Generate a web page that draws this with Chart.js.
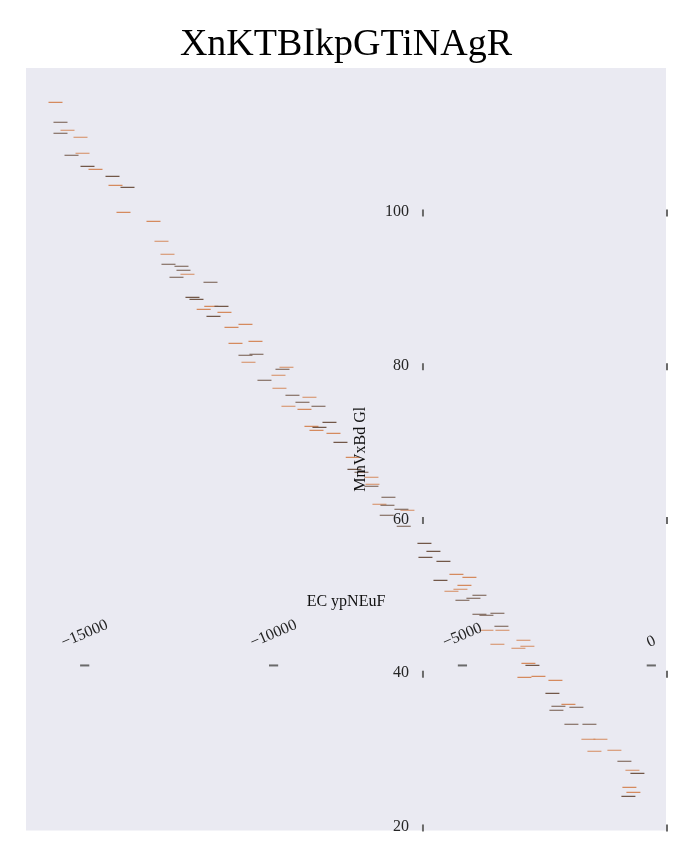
<!DOCTYPE html>
<html><head><meta charset="utf-8">
<script src="https://cdn.jsdelivr.net/npm/chart.js@4/dist/chart.umd.min.js"></script>
<style>html,body{margin:0;padding:0;background:#fff;}</style>
</head><body>
<canvas id="c" width="692" height="865"></canvas>
<script>
const TITLE = "XnKTBIkpGTiNAgR";
const X_LABEL = "EC ypNEuF";
const Y_LABEL = "MmVxBd Gl";

const darkX = [-15641,-15641,-15349,-14926,-14264,-13867,-12782,-12438,-12385,-12570,-11670,-12147,-12041,-11379,-11591,-10744,-10453,-9764,-10241,-9500,-9235,-8811,-8520,-8785,-8229,-7859,-7673,-7409,-6959,-6985,-6615,-7004,-6554,-6006,-5768,-5979,-5503,-5582,-4550,-4709,-5000,-4550,-4365,-4074,-3968,-3147,-2618,-2459,-1983,-2512,-2115,-1638,-712,-368,-606];
const darkY = [111.80,110.37,107.51,106.07,104.77,103.34,93.33,93.07,92.55,91.64,90.99,89.03,88.77,87.86,86.56,81.49,81.62,79.67,78.24,76.29,75.38,74.86,72.77,72.12,70.17,66.66,66.27,64.45,63.02,61.98,61.46,60.68,59.25,57.03,55.99,55.21,54.69,52.22,50.27,49.88,49.62,47.80,47.67,47.93,46.24,41.16,37.52,35.83,35.70,35.31,33.49,33.49,28.68,27.11,24.12];

const orangeX = [-15773,-15455,-15111,-15058,-14714,-14185,-13973,-13179,-12967,-12808,-12279,-11649,-11850,-11300,-10744,-11114,-10479,-11008,-10664,-9659,-9870,-9844,-9050,-9606,-9182,-8997,-8864,-8414,-7904,-7409,-7382,-7197,-6456,-5159,-4815,-4947,-5053,-5291,-4365,-3941,-4074,-3385,-3280,-3518,-3253,-3359,-2988,-2538,-2194,-1665,-1347,-1506,-977,-500,-580,-474];
const orangeY = [114.40,110.76,109.85,107.77,105.68,103.60,100.09,98.92,96.32,94.63,92.03,87.86,87.47,87.08,85.52,85.13,83.31,83.05,80.58,79.93,78.89,77.20,76.03,74.86,74.46,72.25,71.73,71.34,68.22,65.62,64.71,62.11,61.33,53.00,52.61,51.57,51.05,50.79,45.72,45.72,43.90,44.42,43.64,43.38,41.42,39.60,39.73,39.21,36.09,31.54,31.54,29.98,30.11,27.51,25.29,24.64];

const xTicks = [-15000, -10000, -5000, 0];
const xTickLabels = ["\u221215000", "\u221210000", "\u22125000", "0"];
const yTicks = [20, 40, 60, 80, 100];
const yTickLabels = ["20", "40", "60", "80", "100"];

const X_MIN = -16554, X_MAX = 389;
const Y_MIN = 19.67, Y_MAX = 118.86;
const Y_AXIS_AT_X = -6045;   // where the y ticks sit
const X_AXIS_AT_Y = 41.14;   // where the x ticks sit

const FONT = '"Liberation Serif", "Times New Roman", serif';

function pts(xs, ys) { return xs.map((v, i) => ({x: v, y: ys[i]})); }

const decor = {
  id: 'decor',
  beforeDraw(chart) {
    const {ctx, chartArea: a} = chart;
    ctx.save();
    ctx.fillStyle = '#ffffff';
    ctx.fillRect(0, 0, chart.width, chart.height);
    ctx.fillStyle = '#eaeaf2';
    ctx.fillRect(a.left, a.top, a.right - a.left, a.bottom - a.top);
    ctx.restore();
  },
  afterDraw(chart) {
    const {ctx, chartArea: a, scales: {x, y}} = chart;
    const yAxisPx = x.getPixelForValue(Y_AXIS_AT_X);
    const xAxisPy = y.getPixelForValue(X_AXIS_AT_Y);
    ctx.save();
    // y ticks
    ctx.font = '16px ' + FONT;
    yTicks.forEach((v, i) => {
      const py = y.getPixelForValue(v);
      ctx.strokeStyle = '#6a6a6a';
      ctx.lineWidth = 2;
      [yAxisPx, a.right + 1].forEach(px => {
        ctx.beginPath(); ctx.moveTo(px, py - 3.5); ctx.lineTo(px, py + 3.5); ctx.stroke();
      });
      ctx.fillStyle = '#262626';
      ctx.textAlign = 'right';
      ctx.textBaseline = 'middle';
      ctx.fillText(yTickLabels[i], yAxisPx - 14, py - 1);
    });
    // x ticks
    const ang = 23 * Math.PI / 180;
    xTicks.forEach((v, i) => {
      const px = x.getPixelForValue(v);
      ctx.strokeStyle = '#6a6a6a';
      ctx.lineWidth = 2;
      ctx.beginPath(); ctx.moveTo(px - 4.6, xAxisPy); ctx.lineTo(px + 4.6, xAxisPy); ctx.stroke();
      const w = ctx.measureText(xTickLabels[i]).width;
      const h = 12;
      const H = w * Math.sin(ang) + h * Math.cos(ang);
      const cy = xAxisPy - 16.5 - H / 2;
      ctx.save();
      ctx.translate(px, cy);
      ctx.rotate(-ang);
      ctx.fillStyle = '#262626';
      ctx.textAlign = 'center';
      ctx.textBaseline = 'middle';
      ctx.fillText(xTickLabels[i], 0, 0);
      ctx.restore();
    });
    // axis labels
    ctx.fillStyle = '#111111';
    ctx.font = '16px ' + FONT;
    ctx.textAlign = 'center';
    ctx.textBaseline = 'middle';
    ctx.fillText(X_LABEL, (a.left + a.right) / 2, xAxisPy - 63.5);
    ctx.save();
    ctx.translate(yAxisPx - 62, (a.top + a.bottom) / 2);
    ctx.rotate(-Math.PI / 2);
    ctx.fillText(Y_LABEL, 0, 0);
    ctx.restore();
    ctx.restore();
  }
};

new Chart(document.getElementById('c'), {
  type: 'scatter',
  data: {
    datasets: [
      {label: 'dark', data: pts(darkX, darkY), pointStyle: 'line', pointRadius: 7, pointHoverRadius: 7,
       borderColor: '#725748', backgroundColor: '#725748', pointBorderWidth: 1.2},
      {label: 'orange', data: pts(orangeX, orangeY), pointStyle: 'line', pointRadius: 7, pointHoverRadius: 7,
       borderColor: '#d58a5e', backgroundColor: '#d58a5e', pointBorderWidth: 1.2}
    ]
  },
  options: {
    responsive: false,
    animation: false,
    events: [],
    layout: {autoPadding: false, padding: {top: 0, left: 26, right: 26, bottom: 34.5}},
    scales: {
      x: {type: 'linear', min: X_MIN, max: X_MAX, display: false},
      y: {type: 'linear', min: Y_MIN, max: Y_MAX, display: false}
    },
    plugins: {
      legend: {display: false},
      tooltip: {enabled: false},
      title: {display: true, text: TITLE, color: '#000000',
              font: {family: FONT, size: 38, weight: 'normal', lineHeight: 1.2},
              padding: {top: 22.4, bottom: 0}}
    }
  },
  plugins: [decor]
});
</script>
</body></html>
